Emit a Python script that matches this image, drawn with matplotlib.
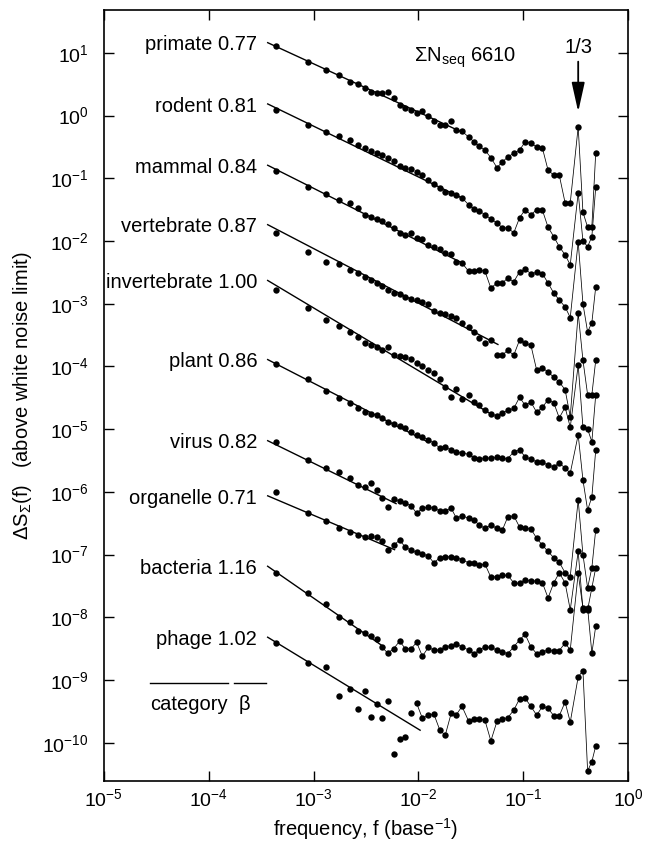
import matplotlib
matplotlib.use('Agg')
import matplotlib.pyplot as plt
import numpy as np

plt.rcParams['font.family'] = ['Liberation Sans', 'DejaVu Sans']
plt.rcParams['mathtext.fontset'] = 'custom'
plt.rcParams['mathtext.rm'] = 'Liberation Sans'
plt.rcParams['mathtext.it'] = 'Liberation Sans:italic'
plt.rcParams['mathtext.bf'] = 'Liberation Sans:bold'
plt.rcParams['mathtext.sf'] = 'Liberation Sans'

# ---------------- data ----------------
freq = [4.4e-4, 8.8e-4, 1.32e-3, 1.76e-3, 2.2e-3, 2.64e-3, 3.08e-3, 3.5e-3, 4.0e-3, 4.5e-3,
        5.1e-3, 5.8e-3, 6.6e-3, 7.5e-3, 8.5e-3, 9.6e-3, 1.09e-2, 1.24e-2, 1.4e-2, 1.6e-2,
        1.8e-2, 2.05e-2, 2.3e-2, 2.6e-2, 3.0e-2, 3.4e-2, 3.8e-2, 4.3e-2, 4.9e-2, 5.6e-2,
        6.3e-2, 7.1e-2, 8.1e-2, 9.2e-2, 0.104, 0.118, 0.134, 0.152, 0.172, 0.195,
        0.22, 0.25, 0.28, 0.3333, 0.37, 0.41, 0.45, 0.49]

categories = ['primate', 'rodent', 'mammal', 'vertebrate', 'invertebrate',
              'plant', 'virus', 'organelle', 'bacteria', 'phage']
beta = [0.77, 0.81, 0.84, 0.87, 1.00, 0.86, 0.82, 0.71, 1.16, 1.02]

# log10 of Delta S_Sigma(f)
primate_log = [1.11, 0.86, 0.73, 0.65, 0.54, 0.51, 0.44, 0.38, 0.36, 0.36,
               0.38, 0.28, 0.17, 0.12, 0.09, 0.04, 0.07, 0.00, -0.08, -0.15,
               -0.15, -0.08, -0.23, -0.25, -0.34, -0.42, -0.49, -0.55, -0.67, -0.83,
               -0.74, -0.66, -0.60, -0.55, -0.42, -0.44, -0.50, -0.52, -0.87, -0.95,
               -0.95, -1.39, -1.39, -0.18, -1.54, -1.78, -1.77, -0.59]
rodent_log = [0.09, -0.15, -0.26, -0.32, -0.39, -0.47, -0.52, -0.56, -0.60, -0.63,
              -0.67, -0.72, -0.80, -0.83, -0.85, -0.90, -0.95, -1.03, -1.09, -1.15,
              -1.22, -1.24, -1.27, -1.31, -1.42, -1.49, -1.52, -1.58, -1.65, -1.71,
              -1.79, -1.79, -1.87, -1.63, -1.50, -1.58, -1.50, -1.51, -1.78, -1.93,
              -2.09, -2.22, -2.38, -1.23, -2.00, -2.09, -1.93, -1.14]
mammal_log = [-0.88, -1.14, -1.25, -1.34, -1.39, -1.47, -1.58, -1.62, -1.65, -1.68,
              -1.73, -1.79, -1.87, -1.90, -1.87, -1.95, -1.97, -2.06, -2.09, -2.13,
              -2.19, -2.21, -2.33, -2.35, -2.48, -2.48, -2.46, -2.48, -2.75, -2.67,
              -2.67, -2.59, -2.65, -2.49, -2.45, -2.52, -2.50, -2.52, -2.67, -2.83,
              -2.94, -3.05, -3.22, -2.01, -3.00, -3.45, -3.30, -2.73]
vertebrate_log = [-1.87, -2.17, -2.33, -2.37, -2.46, -2.51, -2.58, -2.62, -2.67, -2.72,
                  -2.78, -2.83, -2.85, -2.89, -2.92, -2.94, -2.97, -3.00, -3.12, -3.15,
                  -3.16, -3.20, -3.23, -3.31, -3.37, -3.45, -3.55, -3.63, -3.58, -3.82,
                  -3.82, -3.74, -3.82, -3.58, -3.63, -3.66, -4.06, -4.02, -4.09, -4.17,
                  -4.25, -4.37, -4.80, -3.15, -3.90, -4.45, -4.45, -3.90]
invertebrate_log = [-2.78, -3.07, -3.26, -3.35, -3.45, -3.53, -3.63, -3.66, -3.69, -3.74,
                    -3.69, -3.82, -3.84, -3.85, -3.88, -3.94, -4.00, -4.05, -4.10, -4.20,
                    -4.33, -4.49, -4.36, -4.52, -4.46, -4.57, -4.62, -4.70, -4.75, -4.79,
                    -4.74, -4.70, -4.67, -4.49, -4.62, -4.57, -4.73, -4.65, -4.53, -4.58,
                    -4.82, -4.65, -4.97, -3.98, -4.97, -5.00, -5.20, -4.45]
plant_log = [-3.96, -4.20, -4.39, -4.50, -4.58, -4.66, -4.73, -4.75, -4.77, -4.82,
             -4.88, -4.92, -4.95, -4.98, -5.05, -5.09, -5.12, -5.17, -5.22, -5.30,
             -5.29, -5.33, -5.36, -5.38, -5.40, -5.46, -5.47, -5.46, -5.46, -5.45,
             -5.46, -5.47, -5.36, -5.33, -5.44, -5.48, -5.52, -5.53, -5.57, -5.60,
             -5.54, -5.62, -5.70, -5.09, -5.81, -6.29, -6.08, -5.33]
virus_log = [-5.20, -5.49, -5.62, -5.68, -5.78, -5.89, -5.92, -5.86, -5.97, -6.10,
             -6.24, -6.12, -6.14, -6.18, -6.22, -6.34, -6.26, -6.24, -6.26, -6.30,
             -6.30, -6.26, -6.42, -6.38, -6.42, -6.45, -6.53, -6.58, -6.53, -6.58,
             -6.61, -6.40, -6.38, -6.56, -6.58, -6.59, -6.74, -6.85, -6.95, -7.05,
             -7.12, -7.29, -7.35, -6.13, -7.00, -7.53, -7.21, -6.60]
organelle_log = [-6.00, -6.34, -6.46, -6.58, -6.64, -6.69, -6.72, -6.70, -6.72, -6.78,
                 -6.93, -6.85, -6.77, -6.88, -6.93, -6.96, -6.99, -7.02, -7.13, -7.05,
                 -7.04, -7.03, -7.05, -7.08, -7.13, -7.13, -7.17, -7.15, -7.36, -7.35,
                 -7.33, -7.33, -7.45, -7.46, -7.40, -7.42, -7.42, -7.45, -7.69, -7.45,
                 -7.29, -7.45, -7.88, -6.95, -7.88, -7.88, -7.53, -7.21]
bacteria_log = [-7.29, -7.61, -7.79, -7.99, -8.08, -8.22, -8.25, -8.30, -8.35, -8.48,
                -8.57, -8.50, -8.38, -8.50, -8.50, -8.40, -8.62, -8.48, -8.52, -8.52,
                -8.47, -8.45, -8.43, -8.47, -8.52, -8.58, -8.52, -8.47, -8.48, -8.52,
                -8.55, -8.58, -8.47, -8.36, -8.27, -8.47, -8.58, -8.55, -8.52, -8.53,
                -8.53, -8.41, -8.52, -7.30, -7.85, -7.85, -8.57, -8.14]
phage_log = [-8.41, -8.73, -8.79, -9.26, -9.15, -9.46, -9.18, -9.59, -9.38, -9.61,
             -9.34, -10.18, -9.94, -9.91, -9.52, -9.37, -9.61, -9.56, -9.54, -9.80,
             -9.88, -9.53, -9.55, -9.42, -9.65, -9.62, -9.62, -9.64, -9.97, -9.66,
             -9.62, -9.60, -9.48, -9.30, -9.29, -9.42, -9.56, -9.42, -9.45, -9.57,
             -9.57, -9.35, -9.67, -8.95, -8.85, -10.45, -10.30, -10.05]

series_log = [primate_log, rodent_log, mammal_log, vertebrate_log, invertebrate_log,
              plant_log, virus_log, organelle_log, bacteria_log, phage_log]

# power-law fits: log10 value at the reference frequency, fit range
fit_ref_freq = 4.4e-4
fit_anchor_log = [1.10, 0.12, -0.86, -1.81, -2.71, -3.96, -5.25, -6.12, -7.28, -8.40]
fit_start = 3.6e-4
fit_end = [0.025, 0.025, 0.028, 0.058, 0.05, 0.012, 0.0062, 0.006, 0.0048, 0.0105]

FS = 14.5

# ---------------- plot ----------------
fig = plt.figure(figsize=(6.49, 8.41), dpi=100)
ax = fig.add_axes([0.160, 0.0713, 0.808, 0.917])
ax.set_xscale('log')
ax.set_yscale('log')

f = np.array(freq)
for name, b, vals, a, fe in zip(categories, beta, series_log, fit_anchor_log, fit_end):
    y = np.power(10.0, np.array(vals))
    # fit line
    fx = np.array([fit_start, fe])
    fy = 10 ** (a - b * (np.log10(fx) - np.log10(fit_ref_freq)))
    ax.plot(fx, fy, color='black', lw=1.0, solid_capstyle='butt', zorder=2)
    # thin connecting line beyond the fit range
    idx = np.where(f >= fe)[0]
    start = max(idx[0] - 1, 0)
    ax.plot(f[start:], y[start:], color='black', lw=0.55, zorder=2)
    # points
    ax.plot(f, y, 'o', color='black', ms=4.6, mew=0, zorder=3)
    # label
    ax.text(2.9e-4, fy[0] * 10 ** (-0.04), f'{name} {b:.2f}', ha='right', va='center',
            fontsize=FS)

ax.set_xlim(1e-5, 1)
ax.set_ylim(10 ** -10.61, 10 ** 1.686)
ax.set_xticks([1e-5, 1e-4, 1e-3, 1e-2, 1e-1, 1])
ax.set_yticks([10.0 ** k for k in range(-10, 2)])
ax.xaxis.set_minor_locator(matplotlib.ticker.NullLocator())
ax.yaxis.set_minor_locator(matplotlib.ticker.NullLocator())
ax.tick_params(which='major', direction='in', length=7, width=1.0, top=True, right=True,
               labelsize=14)
ax.tick_params(axis='x', pad=5)
ax.tick_params(axis='y', pad=11)
for s in ax.spines.values():
    s.set_linewidth(1.2)

ax.set_xlabel(r'frequency, f (base$^{-1}$)', fontsize=FS)
ax.xaxis.set_label_coords(0.5, -0.045)
ax.set_ylabel(r'$\Delta \mathrm{S}_{\Sigma}\mathrm{(f)}$   (above white noise limit)',
              fontsize=FS, labelpad=6)

# annotations
ax.text(0.028, 10 ** 0.93, r'$\Sigma\mathrm{N}_{\mathrm{seq}}$ 6610', ha='center',
        va='center', fontsize=FS)
ax.text(1 / 3, 10 ** 1.08, '1/3', ha='center', va='center', fontsize=FS)
ax.annotate('', xy=(1 / 3, 10 ** 0.06), xytext=(1 / 3, 10 ** 0.86),
            arrowprops=dict(arrowstyle='-|>,head_length=0.9,head_width=0.2', lw=1.3,
                            color='black', mutation_scale=20, shrinkA=0, shrinkB=0))

# category / beta key
ax.plot([0.088, 0.237], [0.127, 0.127], color='black', lw=1.0, transform=ax.transAxes)
ax.plot([0.248, 0.309], [0.127, 0.127], color='black', lw=1.0, transform=ax.transAxes)
ax.text(0.162, 0.099, 'category', ha='center', va='center', fontsize=FS,
        transform=ax.transAxes)
ax.text(0.268, 0.099, 'β', ha='center', va='center', fontsize=FS,
        transform=ax.transAxes)

fig.savefig('out.png', dpi=100)
